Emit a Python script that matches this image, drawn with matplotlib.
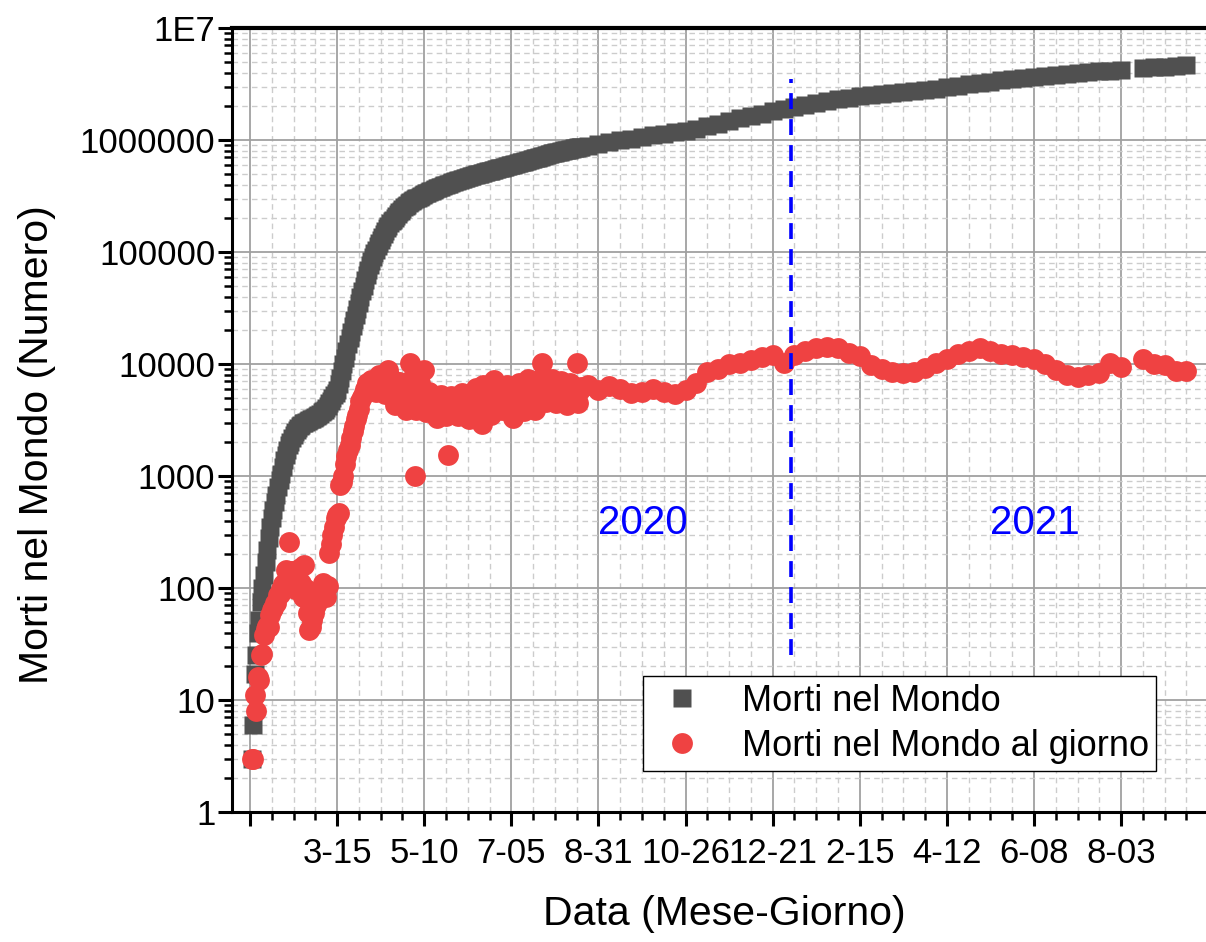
import numpy as np
import matplotlib
matplotlib.use('Agg')
import matplotlib.pyplot as plt
from matplotlib.ticker import FixedLocator, FixedFormatter, LogLocator, NullFormatter, MultipleLocator

plt.rcParams['font.family'] = ['Liberation Sans', 'DejaVu Sans']

# ---------------- data (x = days since 19 Jan 2020) ----------------
daily_days = list(range(1, 214))

daily_cum = [
    3, 6, 17, 25, 40, 52, 75, 100, 130, 170,
    220, 280, 350, 420, 500, 580, 680, 790, 920, 1050,
    1200, 1380, 1550, 1720, 1880, 2020, 2170, 2320, 2450, 2570,
    2680, 2780, 2870, 2950, 3000, 3050, 3100, 3150, 3200, 3250,
    3300, 3350, 3420, 3500, 3580, 3700, 3800, 3900, 4050, 4250,
    4450, 4700, 4950, 5250, 5550, 5900, 6600, 7500, 8600, 9900,
    11300, 13000, 15000, 17000, 19500, 22000, 24500, 27500, 31000, 35000,
    39500, 44500, 50000, 56000, 62000, 69000, 76000, 83000, 90000, 97000,
    105000, 113000, 121000, 129000, 137000, 145000, 154000, 163000, 172000, 180000,
    188000, 195000, 202000, 210000, 218000, 226000, 234000, 242000, 250000, 258000,
    265000, 272000, 280000, 286000, 291000, 296000, 301000, 306000, 311000, 317000,
    323000, 329000, 334000, 339000, 344000, 349000, 354000, 359000, 364000, 369000,
    374000, 379000, 384000, 389000, 394000, 398000, 403000, 408000, 413000, 418000,
    423000, 428000, 432000, 436000, 441000, 446000, 451000, 456000, 461000, 465000,
    469000, 474000, 479000, 484000, 489000, 494000, 498000, 502000, 506000, 511000,
    516000, 521000, 526000, 530000, 534000, 539000, 544000, 549000, 554000, 559000,
    563000, 567000, 572000, 578000, 584000, 590000, 595000, 600000, 604000, 609000,
    615000, 621000, 628000, 634000, 638000, 642000, 648000, 655000, 662000, 669000,
    675000, 680000, 684000, 690000, 697000, 704000, 711000, 721000, 727000, 732000,
    738000, 744000, 751000, 758000, 764000, 770000, 774000, 780000, 787000, 794000,
    800000, 806000, 811000, 815000, 821000, 828000, 834000, 840000, 846000, 856000,
    860000, 866000, 872000,
]

daily_new = [
    3, 3, 11, 8, 16, 15, 25, 26, 38, 43,
    46, 45, 57, 64, 66, 73, 73, 86, 89, 97,
    108, 97, 146, 121, 255, 143, 142, 105, 98, 139,
    118, 150, 110, 83, 160, 98, 60, 42, 45, 52,
    60, 68, 74, 80, 88, 95, 110, 100, 83, 105,
    205, 245, 300, 350, 420, 450, 470, 830, 880, 1000,
    1280, 1500, 1700, 1900, 2200, 2500, 2800, 3200, 3500, 4000,
    4700, 5100, 5500, 6000, 6800, 5900, 6400, 7200, 6900, 6100,
    5600, 6800, 7900, 7200, 6700, 6300, 5400, 6300, 8900, 7700,
    6500, 5500, 4300, 4900, 6900, 6900, 6300, 5900, 4400, 3900,
    5800, 7100, 10200, 5400, 5100, 1000, 3900, 6000, 6800, 5800,
    5200, 8900, 3700, 4300, 5600, 5100, 5300, 4800, 3600, 3300,
    5000, 5200, 5300, 5000, 4400, 3400, 1540, 4800, 5200, 5000,
    4900, 4200, 3500, 3400, 4700, 5500, 5400, 5100, 4200, 3300,
    3200, 4800, 5400, 5200, 6100, 4600, 3800, 3300, 2900, 6500,
    5200, 5300, 4700, 3900, 3500, 5000, 7200, 5400, 5300, 4900,
    4500, 3900, 4900, 5900, 6500, 5600, 5300, 4300, 3300, 4800,
    5700, 5900, 6800, 5800, 4400, 3800, 5500, 6900, 7300, 6600,
    6300, 5200, 3900, 5900, 7200, 7000, 6600, 10200, 5900, 4600,
    5700, 6500, 6800, 7300, 6200, 5400, 4500, 5500, 6700, 7000,
    6400, 6000, 5000, 4300, 5800, 6800, 6500, 6000, 5500, 10200,
    4500, 5800, 6200,
]

weekly_days = [
    217, 224, 231, 238, 245, 252, 259, 266, 273, 280,
    287, 294, 301, 308, 315, 322, 329, 336, 343, 350,
    357, 364, 371, 378, 385, 392, 399, 406, 413, 420,
    427, 434, 441, 448, 455, 462, 469, 476, 483, 490,
    497, 504, 511, 518, 525, 532, 539, 546, 553, 560,
    574, 581, 588, 595, 602,
]

weekly_cum = [
    890000, 920000, 955000, 990000, 1030000, 1065000, 1100000, 1140000, 1175000, 1215000,
    1265000, 1330000, 1400000, 1480000, 1560000, 1640000, 1720000, 1800000, 1880000, 1960000,
    2040000, 2130000, 2220000, 2310000, 2390000, 2450000, 2510000, 2560000, 2610000, 2660000,
    2720000, 2790000, 2860000, 2950000, 3040000, 3130000, 3220000, 3310000, 3400000, 3490000,
    3580000, 3660000, 3740000, 3820000, 3890000, 3960000, 4030000, 4100000, 4170000, 4250000,
    4380000, 4450000, 4520000, 4590000, 4650000,
]

weekly_new = [
    6500, 5800, 6300, 6000, 5500, 5600, 6000, 5600, 5400, 5900,
    6800, 8400, 9000, 10000, 10300, 10800, 11500, 12000, 10300, 12000,
    13000, 13800, 14200, 14000, 12500, 11800, 9800, 9000, 8500, 8300,
    8500, 9300, 10200, 11000, 12200, 13000, 13800, 13000, 12300, 12000,
    11500, 11000, 10000, 8800, 8000, 7700, 7900, 8300, 10300, 9400,
    11000, 10000, 9800, 8700, 8600,
]

tick_days = [0, 56, 112, 168, 224, 280, 336, 392, 448, 504, 560]
tick_labels = ['', '3-15', '5-10', '7-05', '8-31', '10-26', '12-21', '2-15', '4-12', '6-08', '8-03']
ytick_values = [1, 10, 100, 1000, 10000, 100000, 1000000, 10000000]
ytick_labels = ['1', '10', '100', '1000', '10000', '100000', '1000000', '1E7']

year_boundary_day = 348
year_labels = ['2020', '2021']
year_label_days = [252.7, 504.7]
year_label_value = 380

series_names = ['Morti nel Mondo', 'Morti nel Mondo al giorno']

# ---------------- figure ----------------
fig = plt.figure(figsize=(12.06, 9.42), dpi=100)
ax = fig.add_axes([232 / 1206, 130 / 942, 974 / 1206, 784 / 942])
ax.set_yscale('log')
ax.set_ylim(1, 1e7)
ax.set_xlim(-11.6, 614.6)

x_all = np.array(daily_days + weekly_days)
cum_all = np.array(daily_cum + weekly_cum)
new_all = np.array(daily_new + weekly_new)

ax.plot(x_all, cum_all, ls='none', marker='s', ms=13, color='#505050', mec='none',
        label=series_names[0], zorder=3)
ax.plot(x_all, new_all, ls='none', marker='o', ms=15, color='#EF4242', mec='none',
        label=series_names[1], zorder=4)

# year boundary
ax.plot([year_boundary_day, year_boundary_day], [25, 3.5e6], color='#0000FF', lw=2.6,
        dashes=(4.4, 2.8), zorder=5)
for lab, d in zip(year_labels, year_label_days):
    ax.text(d, year_label_value, lab, color='#0000FF', fontsize=29, ha='center', va='center', zorder=6)

# ticks
ax.xaxis.set_major_locator(FixedLocator(tick_days))
ax.xaxis.set_major_formatter(FixedFormatter(tick_labels))
ax.xaxis.set_minor_locator(MultipleLocator(14))
ax.yaxis.set_major_locator(FixedLocator(ytick_values))
ax.yaxis.set_major_formatter(FixedFormatter(ytick_labels))
ax.yaxis.set_minor_locator(LogLocator(base=10, subs=np.arange(2, 10), numticks=20))
ax.yaxis.set_minor_formatter(NullFormatter())

ax.tick_params(axis='both', which='major', direction='out', length=10, width=2.2, labelsize=25)
ax.tick_params(axis='both', which='minor', direction='out', length=5.5, width=1.8)
ax.tick_params(axis='x', which='major', pad=8)
ax.tick_params(axis='y', which='major', pad=2)

# grid
ax.set_axisbelow(True)
ax.grid(which='major', color='#a0a0a0', lw=1.3, ls='-')
ax.grid(which='minor', color='#cccccc', lw=1.0, ls=(0, (4, 3)))

# spines
ax.spines['right'].set_visible(False)
ax.spines['top'].set_linewidth(3.0)
ax.spines['left'].set_linewidth(2.2)
ax.spines['bottom'].set_linewidth(2.2)

ax.set_xlabel('Data (Mese-Giorno)', fontsize=29.5, labelpad=18)
ax.xaxis.label.set_x((724 - 232) / 974)
ax.set_ylabel('Morti nel Mondo (Numero)', fontsize=29.5)
ax.yaxis.set_label_coords(-0.181, (812 - 445) / 784)

leg = ax.legend(loc='upper left', bbox_to_anchor=(0.422, 0.173), fontsize=26,
                frameon=True, fancybox=False, edgecolor='black', framealpha=1,
                borderpad=0.2, handlelength=1.76, handletextpad=0.78,
                labelspacing=0.29, borderaxespad=0)
leg.get_frame().set_linewidth(1.0)
leg.set_zorder(10)

fig.savefig('out.png', dpi=100)
